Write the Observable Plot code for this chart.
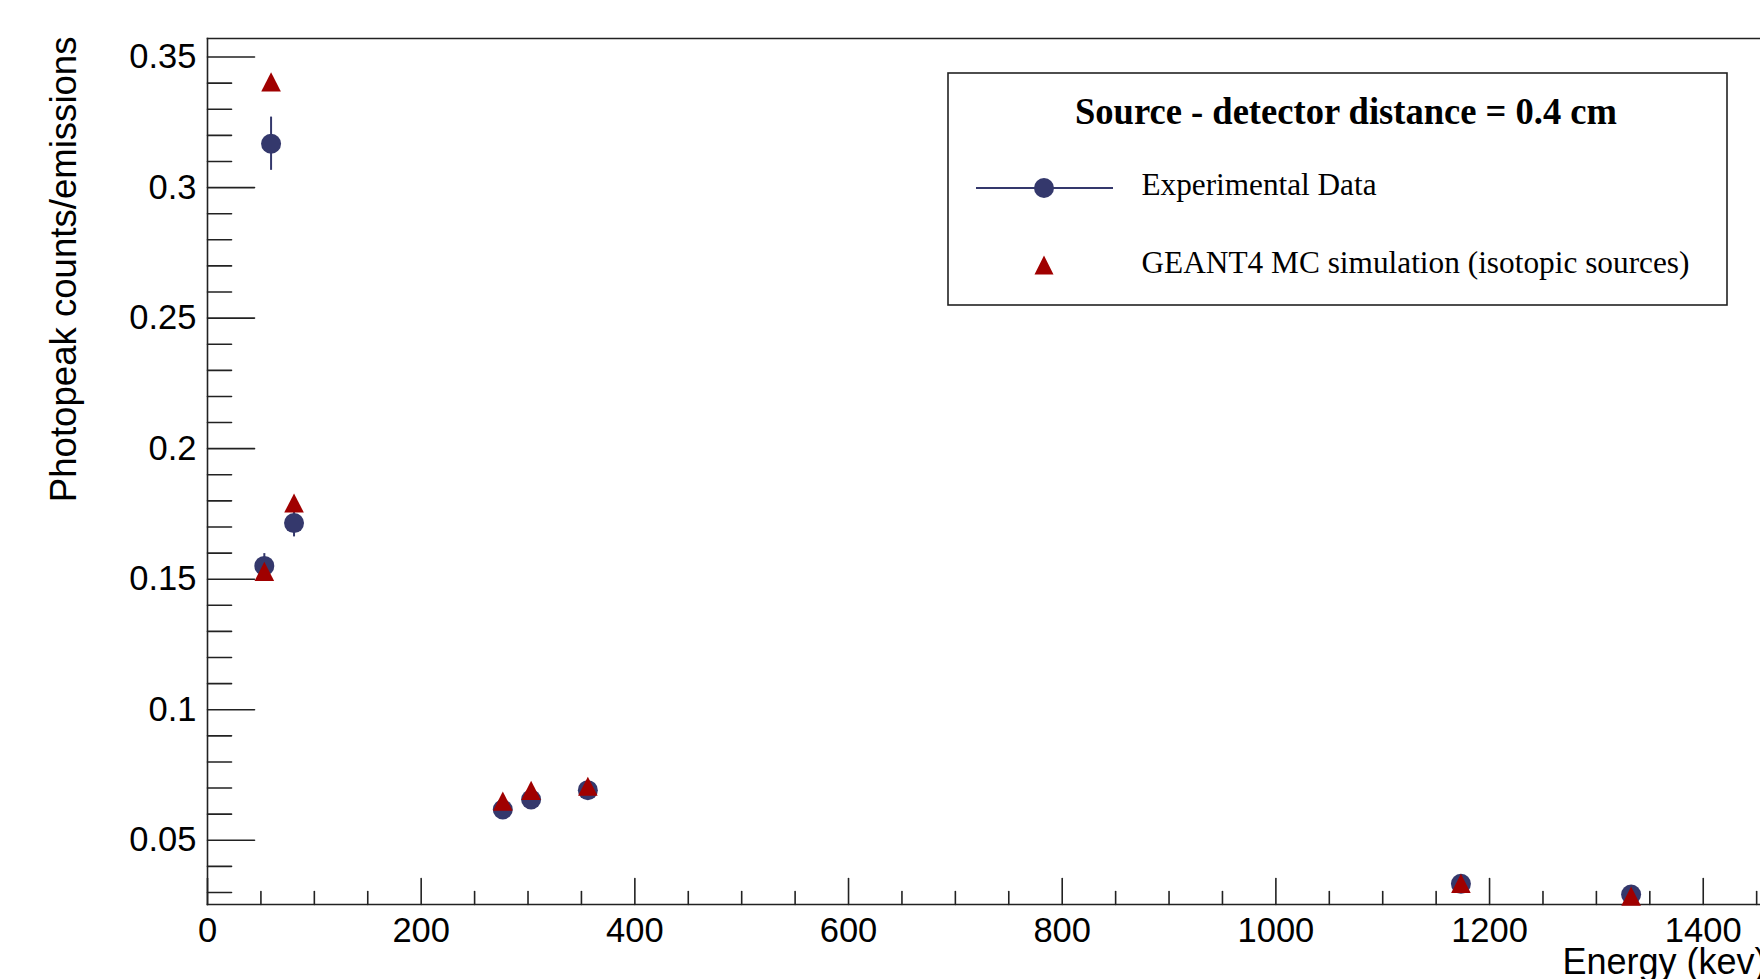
<!DOCTYPE html>
<html><head><meta charset="utf-8">
<script src="https://cdn.jsdelivr.net/npm/d3@7"></script>
<script src="https://cdn.jsdelivr.net/npm/@observablehq/plot@0.6"></script>
<style>html,body{margin:0;padding:0;background:#fff;overflow:hidden}svg{display:block}</style>
</head><body><div id="chart"></div>
<script>
// ---- data ----
const energies = [53.2, 59.5, 81.0, 276.4, 302.9, 356.0, 1173.2, 1332.5];
const expValues = [0.1551, 0.3168, 0.1715, 0.0618, 0.0656, 0.0692, 0.0333, 0.0292];
const expErrors = [0.0047, 0.0102, 0.0053, 0.0020, 0.0020, 0.0020, 0.0012, 0.0012];
const mcValues = [0.1529, 0.3404, 0.1791, 0.0649, 0.0690, 0.0706, 0.0334, 0.0285];
const xMajorTicks = [0, 200, 400, 600, 800, 1000, 1200, 1400];
const xMinorTicks = [50, 100, 150, 250, 300, 350, 450, 500, 550, 650, 700, 750, 850, 900, 950, 1050, 1100, 1150, 1250, 1300, 1350, 1450];
const yMajorTicks = [0.05, 0.1, 0.15, 0.2, 0.25, 0.3, 0.35];
const yMinorTicks = [0.03, 0.04, 0.06, 0.07, 0.08, 0.09, 0.11, 0.12, 0.13, 0.14, 0.16, 0.17, 0.18, 0.19, 0.21, 0.22, 0.23, 0.24, 0.26, 0.27, 0.28, 0.29, 0.31, 0.32, 0.33, 0.34];
const xLabel = "Energy (kev)";
const yLabel = "Photopeak counts/emissions";
const legendTitle = "Source - detector distance = 0.4 cm";
const seriesNames = ["Experimental Data", "GEANT4 MC simulation (isotopic sources)"];

// ---- styles ----
const navy = "#34386c";
const red = "#a00000";
const axisColor = "#222";
const xDomain = [0, 1453.6];
const yDomain = [0.0254, 0.3571];

const expData = energies.map((e, i) => ({e, v: expValues[i], err: expErrors[i]}));
const mcData = energies.map((e, i) => ({e, v: mcValues[i]}));

const tickShape = {draw(ctx, l) { ctx.moveTo(0, 0); ctx.lineTo(0, -l); }};
const triangle = {draw(ctx, size) {
  const r = Math.sqrt(size / Math.PI);
  ctx.moveTo(0, -r); ctx.lineTo(r, r * 0.95); ctx.lineTo(-r, r * 0.95); ctx.closePath();
}};

const svg = Plot.plot({
  width: 1760, height: 979,
  marginLeft: 207, marginRight: 0, marginTop: 38, marginBottom: 75,
  style: {fontFamily: "'Liberation Sans', Arial, Helvetica, sans-serif", color: "#000", background: "#fff"},
  x: {domain: xDomain},
  y: {domain: yDomain},
  marks: [
    Plot.frame({anchor: "top", stroke: axisColor, strokeWidth: 1.6}),
    Plot.frame({anchor: "left", stroke: axisColor, strokeWidth: 1.6}),
    Plot.frame({anchor: "bottom", stroke: axisColor, strokeWidth: 1.6}),
    Plot.vector(xMajorTicks, {x: d => d, y: () => yDomain[0], length: 26, anchor: "start", shape: tickShape, stroke: axisColor, strokeWidth: 1.6}),
    Plot.vector(xMinorTicks, {x: d => d, y: () => yDomain[0], length: 13, anchor: "start", shape: tickShape, stroke: axisColor, strokeWidth: 1.6}),
    Plot.vector(yMajorTicks, {x: () => 0, y: d => d, rotate: 90, length: 47, anchor: "start", shape: tickShape, stroke: axisColor, strokeWidth: 1.6}),
    Plot.vector(yMinorTicks, {x: () => 0, y: d => d, rotate: 90, length: 24, anchor: "start", shape: tickShape, stroke: axisColor, strokeWidth: 1.6}),
    Plot.axisX({ticks: xMajorTicks, tickSize: 0, tickPadding: 13, fontSize: 34.5, tickFormat: d => String(d), label: null}),
    Plot.axisY({ticks: yMajorTicks, tickSize: 0, tickPadding: 11, fontSize: 34.5, tickFormat: d => String(d), label: null}),
    Plot.text([xLabel], {text: d => d, frameAnchor: "bottom-left", dx: 1355, dy: 69, textAnchor: "start", lineAnchor: "bottom", fontSize: 36, fill: "#000"}),
    Plot.text([yLabel], {text: d => d, frameAnchor: "top-left", rotate: -90, textAnchor: "end", lineAnchor: "bottom", dx: -132, dy: -2, fontSize: 36.6, fill: "#000"}),
    Plot.ruleX(expData, {x: "e", y1: d => d.v - d.err, y2: d => d.v + d.err, stroke: navy, strokeWidth: 2}),
    Plot.dot(expData, {x: "e", y: "v", r: 10, fill: navy, stroke: "none"}),
    Plot.dot(mcData, {x: "e", y: "v", r: 9.8, symbol: triangle, fill: red, stroke: "none"})
  ]
});
document.getElementById("chart").appendChild(svg);

// ---- legend (ROOT TLegend style) ----
const serif = "'Liberation Serif', 'Times New Roman', serif";
const g = d3.select(svg).append("g");
g.append("rect").attr("x", 948).attr("y", 73).attr("width", 779).attr("height", 232)
  .attr("fill", "#fff").attr("stroke", axisColor).attr("stroke-width", 1.6);
g.append("text").attr("x", 1346).attr("y", 124).attr("text-anchor", "middle")
  .attr("font-family", serif).attr("font-weight", "bold")
  .attr("font-size", 38).attr("textLength", 542).attr("lengthAdjust", "spacingAndGlyphs")
  .attr("fill", "#000").text(legendTitle);
g.append("line").attr("x1", 976).attr("x2", 1113).attr("y1", 188).attr("y2", 188)
  .attr("stroke", navy).attr("stroke-width", 2);
g.append("circle").attr("cx", 1044).attr("cy", 188).attr("r", 10).attr("fill", navy);
g.append("path").attr("d", "M1044,255.5L1053.5,274.5L1034.5,274.5Z").attr("fill", red);
g.append("text").attr("x", 1141.5).attr("y", 195).attr("text-anchor", "start")
  .attr("font-family", serif).attr("font-size", 31)
  .attr("textLength", 235).attr("lengthAdjust", "spacingAndGlyphs").attr("fill", "#000").text(seriesNames[0]);
g.append("text").attr("x", 1141.5).attr("y", 273).attr("text-anchor", "start")
  .attr("font-family", serif).attr("font-size", 31)
  .attr("textLength", 548).attr("lengthAdjust", "spacingAndGlyphs").attr("fill", "#000").text(seriesNames[1]);
</script>
</body></html>
